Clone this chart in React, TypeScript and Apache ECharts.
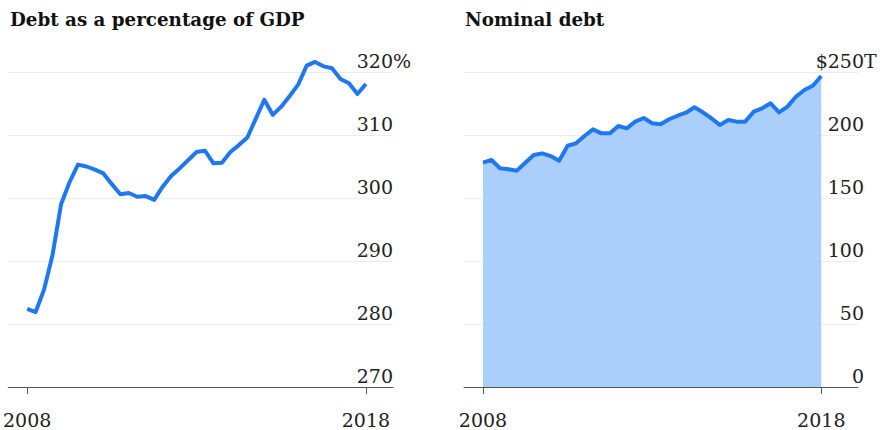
import React, { useEffect, useRef } from "react";
import * as echarts from "echarts";

// Quarterly values, 2008 Q1 through 2018 Q1
const START_YEAR = 2008;
const debtPctGdp = [
  282.4, 281.9, 285.5, 291.0, 299.0, 302.5, 305.3, 305.0, 304.5, 303.9,
  302.2, 300.6, 300.8, 300.2, 300.3, 299.7, 301.8, 303.5, 304.7, 306.0,
  307.3, 307.5, 305.5, 305.6, 307.3, 308.4, 309.6, 312.6, 315.6, 313.2,
  314.5, 316.2, 318.0, 321.0, 321.6, 320.9, 320.6, 318.9, 318.2, 316.5,
  318.1,
];
const nominalDebt = [
  178.0, 180.2, 173.6, 172.8, 171.7, 178.0, 184.1, 185.4, 183.3, 179.6,
  191.5, 193.4, 199.2, 204.5, 201.3, 201.3, 207.1, 205.3, 210.6, 213.5,
  209.3, 208.5, 212.5, 215.3, 217.7, 222.0, 218.0, 213.3, 208.0, 211.9,
  210.6, 210.6, 218.5, 221.2, 225.2, 218.0, 222.5, 230.4, 235.7, 239.1,
  246.8,
];
const xTickYears = [2008, 2018];
const titles = ["Debt as a percentage of GDP", "Nominal debt"];

const LINE = "#1f78f0";
const FILL = "#a9cffa";
const TEXT = "#222222";
const SERIF = "'DejaVu Serif', serif";

const toPairs = (arr: number[]) => arr.map((v, i) => [START_YEAR + i / 4, v]);

export default function App() {
  const ref = useRef<HTMLDivElement>(null);
  useEffect(() => {
    if (!ref.current) return;
    const chart = echarts.init(ref.current, null, { renderer: "svg" });

    const labelFont = { fontFamily: SERIF, fontSize: 19, color: TEXT };

    const xAxisBase = (gridIndex: number, min: number, max: number) => ({
      type: "value",
      gridIndex,
      min,
      max,
      splitLine: { show: false },
      axisLine: { show: true, lineStyle: { color: "#555", width: 1 } },
      axisTick: {
        show: true,
        customValues: xTickYears,
        length: 7,
        lineStyle: { color: "#555", width: 1 },
      },
      axisLabel: {
        ...labelFont,
        customValues: xTickYears,
        margin: 23,
        formatter: (v: number) => String(Math.round(v)),
      },
    });

    const yAxisBase = (
      gridIndex: number,
      min: number,
      max: number,
      interval: number,
      fmt: (v: number) => string,
      margin: number
    ) => ({
      type: "value",
      gridIndex,
      position: "right",
      min,
      max,
      interval,
      axisLine: { show: false },
      axisTick: { show: false },
      splitLine: { show: true, lineStyle: { color: "#ececec", width: 1 } },
      axisLabel: {
        ...labelFont,
        inside: true,
        align: "right",
        verticalAlign: "bottom",
        margin,
        padding: [0, 0, 2, 0],
        formatter: fmt,
        rich: {
          n: { ...labelFont, align: "left" },
          s: { ...labelFont, width: 0, align: "left" },
        },
      },
    });

    const titleStyle = { fontFamily: SERIF, fontWeight: "bold", fontSize: 18.3, color: "#111" };

    chart.setOption({
      animation: false,
      backgroundColor: "#ffffff",
      title: [
        { text: titles[0], left: 10, top: 10, padding: 0, textStyle: titleStyle },
        { text: titles[1], left: 465, top: 10, padding: 0, textStyle: titleStyle },
      ],
      grid: [
        { left: 8, top: 72, width: 385, height: 315 },
        { left: 464, top: 72, width: 394, height: 315 },
      ],
      xAxis: [
        xAxisBase(0, 2007.44, 2018.8),
        xAxisBase(1, 2007.438, 2019.085),
      ],
      yAxis: [
        yAxisBase(0, 270, 320, 10, (v: number) => (v === 320 ? "{n|320}{s|%}" : String(v)), 0),
        yAxisBase(1, 0, 250, 50, (v: number) => (v === 250 ? "{n|$250}{s|T}" : String(v)), -6),
      ],
      series: [
        {
          type: "line",
          xAxisIndex: 0,
          yAxisIndex: 0,
          data: toPairs(debtPctGdp),
          showSymbol: false,
          clip: false,
          lineStyle: { color: LINE, width: 4, join: "round" },
          z: 3,
        },
        {
          type: "line",
          xAxisIndex: 1,
          yAxisIndex: 1,
          data: toPairs(nominalDebt),
          showSymbol: false,
          clip: false,
          lineStyle: { color: LINE, width: 4, join: "round" },
          areaStyle: { color: FILL, opacity: 1 },
          z: 3,
        },
      ],
    });
    return () => chart.dispose();
  }, []);

  return (
    <div
      ref={ref}
      style={{ position: "absolute", left: 0, top: 0, width: 886, height: 430 }}
    />
  );
}
